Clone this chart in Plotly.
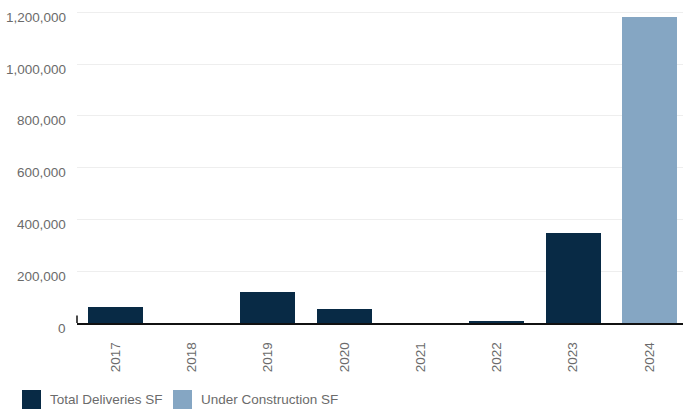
import plotly.graph_objects as go

# Annual industrial supply, square feet
years = ["2017", "2018", "2019", "2020", "2021", "2022", "2023", "2024"]
deliveries_sf = [60000, 0, 121000, 56000, 0, 9000, 349000, None]
under_construction_sf = [None, None, None, None, None, None, None, 1183000]
y_ticks = [0, 200000, 400000, 600000, 800000, 1000000, 1200000]
series_names = ["Total Deliveries SF", "Under Construction SF"]

NAVY = "#082a45"
STEEL = "#85a6c3"
LABEL_GREY = "#6b6b6b"
FONT = "Liberation Sans, Arial, sans-serif"
FSIZE = 13.5

W, H = 683, 409
ML, MR, MT, MB = 77, 0, 10, 86
PLOT_W, PLOT_H = W - ML - MR, H - MT - MB


def px_x(px):
    """Pixel column -> paper x of the plot area."""
    return (px - ML) / PLOT_W


def px_y(py):
    """Pixel row (from top) -> paper y of the plot area."""
    return (H - MB - py) / PLOT_H


fig = go.Figure()
fig.add_trace(go.Bar(x=years, y=deliveries_sf, name=series_names[0],
                     marker=dict(color=NAVY, line_width=0)))
fig.add_trace(go.Bar(x=years, y=under_construction_sf, name=series_names[1],
                     marker=dict(color=STEEL, line_width=0)))

# y tick labels sit slightly below their gridlines
for v in y_ticks:
    fig.add_annotation(x=0, xref="paper", y=v, yref="y", text=f"{v:,}",
                       showarrow=False, xanchor="right", yanchor="middle",
                       xshift=-9, yshift=-5,
                       font=dict(family=FONT, size=FSIZE, color=LABEL_GREY))

# short upright stub at the left end of the baseline
fig.add_shape(type="line", xref="paper", yref="paper", x0=0, x1=0, y0=0, y1=0.024,
              line=dict(color="#111111", width=1.5))

# legend with large square swatches along the bottom edge
for left, name, color in [(22, series_names[0], NAVY), (173, series_names[1], STEEL)]:
    fig.add_shape(type="rect", xref="paper", yref="paper",
                  x0=px_x(left), x1=px_x(left + 19), y0=px_y(409), y1=px_y(390),
                  fillcolor=color, line_width=0)
    fig.add_annotation(x=px_x(left + 26), xref="paper", y=px_y(399.5), yref="paper",
                       text=name, showarrow=False, xanchor="left", yanchor="middle",
                       font=dict(family=FONT, size=FSIZE, color=LABEL_GREY))

fig.update_layout(
    width=W, height=H,
    margin=dict(l=ML, r=MR, t=MT, b=MB),
    paper_bgcolor="white", plot_bgcolor="white",
    barmode="stack", bargap=0.28,
    font=dict(family=FONT, size=FSIZE, color=LABEL_GREY),
    showlegend=False,
    xaxis=dict(range=[-0.5, 7.44], showgrid=False, showline=True,
               linecolor="#111111", linewidth=1.5, tickangle=-90,
               ticklabelstandoff=12, tickfont=dict(family=FONT, size=FSIZE, color=LABEL_GREY)),
    yaxis=dict(range=[0, 1208500], tickvals=y_ticks, showticklabels=False,
               showgrid=True, gridcolor="#eeeeee", gridwidth=1, zeroline=False),
)

fig.write_html("out.html")
